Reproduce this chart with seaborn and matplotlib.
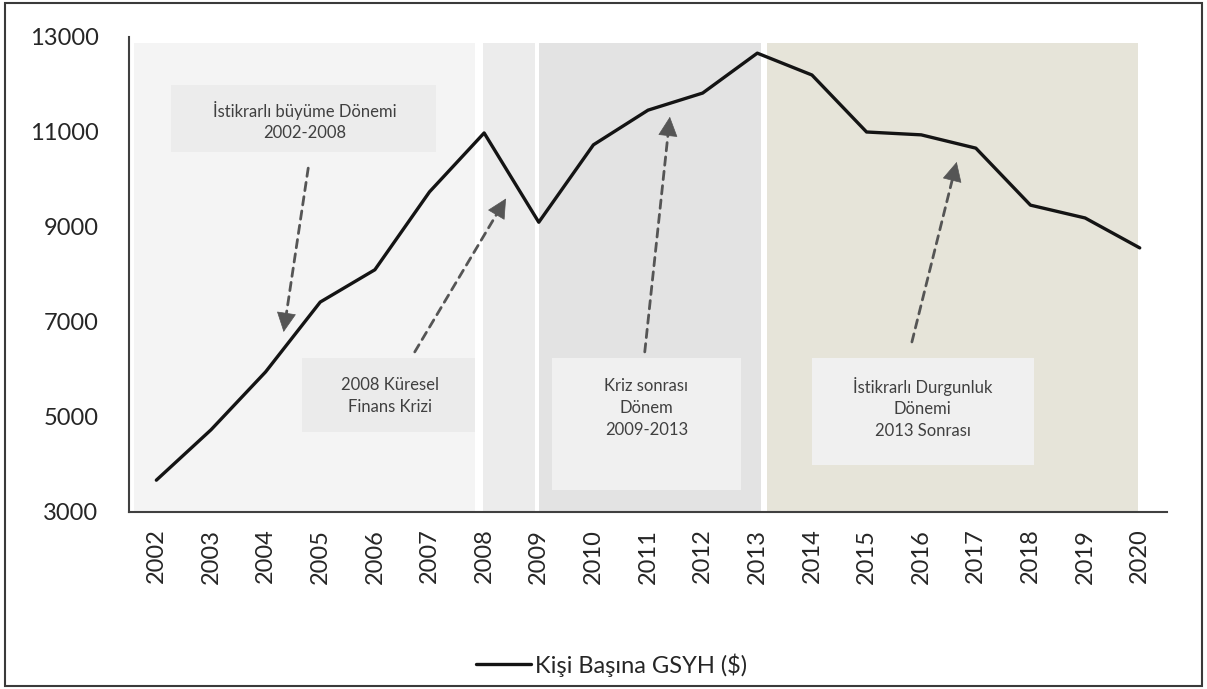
import numpy as np
import pandas as pd
import matplotlib
matplotlib.use("Agg")
import matplotlib.pyplot as plt
from matplotlib.patches import Rectangle
import seaborn as sns

# Kişi başına GSYH ($)
years = list(range(2002, 2021))
gdp = [3670, 4730, 5950, 7420, 8100, 9740, 10980, 9100, 10730, 11460,
       11820, 12660, 12200, 11000, 10940, 10660, 9460, 9190, 8560]
series_name = "Kişi Başına GSYH ($)"

# shaded periods (start, end in year units)
band_spans = [(2001.6, 2007.84), (2007.98, 2008.93), (2009.0, 2013.06), (2013.17, 2019.97)]
band_colors = ["#f4f4f4", "#ececec", "#e3e3e3", "#e6e4d9"]
band_top = 12870

# annotation boxes: text, box (x0, x1, y0, y1), text centre
notes = ["İstikrarlı büyüme Dönemi\n2002-2008",
         "2008 Küresel\nFinans Krizi",
         "Kriz sonrası\nDönem\n2009-2013",
         "İstikrarlı Durgunluk\nDönemi\n2013 Sonrası"]
note_boxes = [(2002.27, 2007.11, 10580, 11990),
              (2004.66, 2007.84, 4684, 6242),
              (2009.25, 2012.70, 3463, 6242),
              (2014.00, 2018.06, 3989, 6242)]
note_centres = [(2004.72, 11230), (2006.27, 5440), (2010.97, 5190), (2016.03, 5190)]
note_colors = ["#ececec", "#ebebeb", "#f0f0f0", "#f0f0f0"]

# dashed arrows: start -> end
arrows = [((2004.78, 10240), (2004.33, 6790)),
          ((2006.73, 6370), (2008.40, 9600)),
          ((2010.94, 6370), (2011.40, 11320)),
          ((2015.83, 6580), (2016.65, 10370))]

sns.set_style("white")
plt.rcParams["font.family"] = ["Lato", "DejaVu Sans"]

fig = plt.figure(figsize=(12.07, 6.89), dpi=100)
ax = fig.add_axes([0.1069, 0.2569, 0.8600, 0.6894])

ymin, ymax = 3000, 13000
for (x0, x1), c in zip(band_spans, band_colors):
    ax.axvspan(x0, x1, ymin=0, ymax=(band_top - ymin) / (ymax - ymin), color=c, lw=0, zorder=0)

for txt, (x0, x1, y0, y1), (cx, cy), c in zip(notes, note_boxes, note_centres, note_colors):
    ax.add_patch(Rectangle((x0, y0), x1 - x0, y1 - y0, facecolor=c, lw=0, zorder=1))
    ax.text(cx, cy, txt, ha="center", va="center", fontsize=12, color="#404040",
            linespacing=1.45, zorder=2)

for (sx, sy), (ex, ey) in arrows:
    ax.annotate("", xy=(ex, ey), xytext=(sx, sy),
                arrowprops=dict(arrowstyle="-", linestyle=(0, (3, 2.2)), color="#555555",
                                lw=2.0, shrinkA=0, shrinkB=9), zorder=3)
    bx = ex - 0.03 * (ex - sx)
    by = ey - 0.03 * (ey - sy)
    ax.annotate("", xy=(ex, ey), xytext=(bx, by),
                arrowprops=dict(arrowstyle="-|>,head_length=1.0,head_width=0.5",
                                color="#555555", lw=0.5, mutation_scale=13,
                                shrinkA=0, shrinkB=0), zorder=3)

df = pd.DataFrame({"year": years, "gdp": gdp})
sns.lineplot(data=df, x="year", y="gdp", color="#141414", lw=2.4, label=series_name,
             ax=ax, zorder=5)

ax.set_xlim(2001.5, 2020.5)
ax.set_ylim(ymin, ymax)
ax.set_xticks(years)
ax.set_xticklabels([str(y) for y in years], rotation=90)
ax.set_yticks(range(3000, 13001, 2000))
ax.set_xlabel("")
ax.set_ylabel("")
ax.tick_params(axis="both", length=0, labelsize=17, colors="#262626")
ax.tick_params(axis="y", pad=22)
ax.tick_params(axis="x", pad=12)
for s in ["top", "right"]:
    ax.spines[s].set_visible(False)
for s in ["left", "bottom"]:
    ax.spines[s].set_color("#404040")
    ax.spines[s].set_linewidth(1.5)

ax.legend(loc="center", bbox_to_anchor=(0.507, 0.035), bbox_transform=fig.transFigure,
          frameon=False, fontsize=17, handlelength=2.3, handletextpad=0.2)

fig.add_artist(Rectangle((0.004, 0.004), 0.992, 0.992, transform=fig.transFigure,
                         fill=False, edgecolor="#3a3a3a", lw=1.5))

fig.savefig("out.png", dpi=100)
